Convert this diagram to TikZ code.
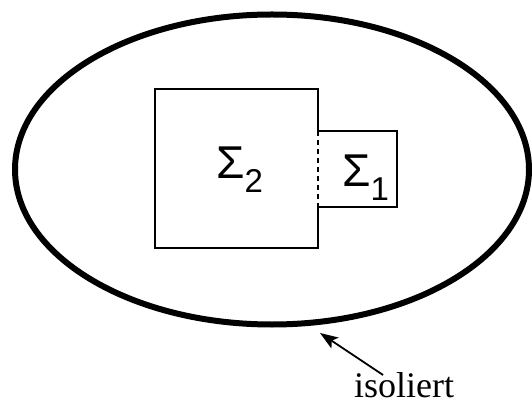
\documentclass[tikz,border=0pt]{standalone}
\usepackage{fontspec}
\setmainfont{Liberation Serif}
\newfontfamily\sigfont{Liberation Sans}
\usetikzlibrary{arrows.meta}
\newcommand{\subdigit}[1]{\raisebox{-14pt}{\fontsize{33}{33}\selectfont #1}}
\begin{document}
\begin{tikzpicture}[x=1pt,y=-1pt,
  boxline/.style={line width=1.3pt},
  sep/.style={line width=2pt, dash pattern=on 5pt off 4pt},
  hull/.style={line width=6pt},
  pointer/.style={line width=1.8pt, -{Stealth[length=18pt,width=13pt,inset=4pt]}},
  sig/.style={anchor=base west, inner sep=0pt, font=\sigfont\fontsize{46}{46}\selectfont},
  lbl/.style={anchor=base, inner sep=0pt, text depth=0pt, font=\fontsize{36}{36}\selectfont}]
\useasboundingbox (0,0) rectangle (532,403);
\draw[hull] (272,169.5) ellipse [x radius=257, y radius=155];
\coordinate (q1) at (318,131);
\coordinate (q2) at (318,207);
\draw[boxline] (q1) -- (318,89) -- (155,89) -- (155,248) -- (318,248) -- (q2);
\draw[boxline] (q1) -- (397,131) -- (397,207) -- (q2);
\draw[sep] (q1) -- (q2);
\node[sig] (s2) at (216,179) {Σ\subdigit{2}};
\node[sig] (s1) at (342,187) {Σ\subdigit{1}};
\node[lbl] (iso) at (404,397) {isoliert};
\coordinate (tail) at (383,375);
\coordinate (tip) at (320,333);
\draw[pointer] (tail) -- (tip);
\end{tikzpicture}
\end{document}
